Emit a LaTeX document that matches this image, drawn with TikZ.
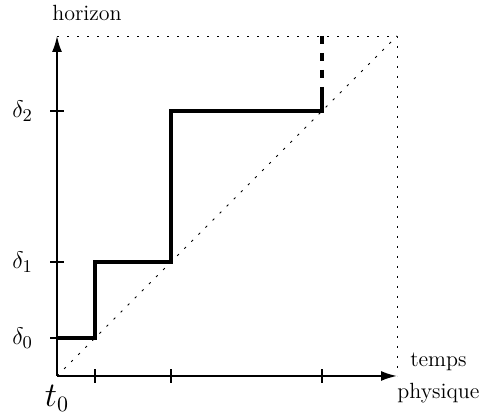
\documentclass[tikz,border=0pt]{standalone}
\usepackage{amsmath}
\usetikzlibrary{arrows.meta}

\begin{document}
\begin{tikzpicture}[
        x=5pt, y=5pt,
        axis/.style={-{Latex[length=8pt,width=5pt]}, line width=0.9pt},
        stair/.style={line width=2pt},
        guide/.style={dash pattern=on 1.2pt off 3.8pt, thin},
        tickmark/.style={line width=0.9pt},
        txtlabel/.style={font=\fontsize{11}{16}\selectfont, align=center},
        mathlabel/.style={font=\fontsize{13}{15}\selectfont}
    ]
    \useasboundingbox (-5.7,-3.9) rectangle (42.6,37.6);

    % --- Guides ---
    \draw[guide] (0,34) -- (34,34) -- (34,0);
    \draw[guide] (0,0) -- (34,34);

    % --- Axes ---
    \draw[axis] (0,0) -- (34,0);
    \draw[axis] (0,0) -- (0,34);

    % --- Ticks ---
    \foreach \t in {3.8,11.4,26.5} {
        \draw[tickmark] (\t,-0.7) -- (\t,0.7);
        \draw[tickmark] (-0.7,\t) -- (0.7,\t);
    }

    % --- Labels ---
    \node[txtlabel] (horizon) at (3.0,36.3) {horizon};
    \node[txtlabel, anchor=west, inner sep=0pt] (temps) at (34,-0.2) {temps\\physique};
    \node[mathlabel, font=\fontsize{16}{18}\selectfont, anchor=north, inner sep=1pt] (tzero) at (0,-0.7) {$t_0$};
    \node[mathlabel, anchor=east] (dzero) at (-1.7,3.8) {$\delta_0$};
    \node[mathlabel, anchor=east] (done) at (-1.7,11.4) {$\delta_1$};
    \node[mathlabel, anchor=east] (dtwo) at (-1.7,26.5) {$\delta_2$};

    % --- Staircase ---
    \draw[stair] (0,3.8) -- (3.8,3.8) -- (3.8,11.4) -- (11.4,11.4) -- (11.4,26.5) -- (26.5,26.5) -- (26.5,28.9);
    \draw[stair, dash pattern=on 4pt off 4.5pt] (26.5,34) -- (26.5,28.9);

\end{tikzpicture}
\end{document}
